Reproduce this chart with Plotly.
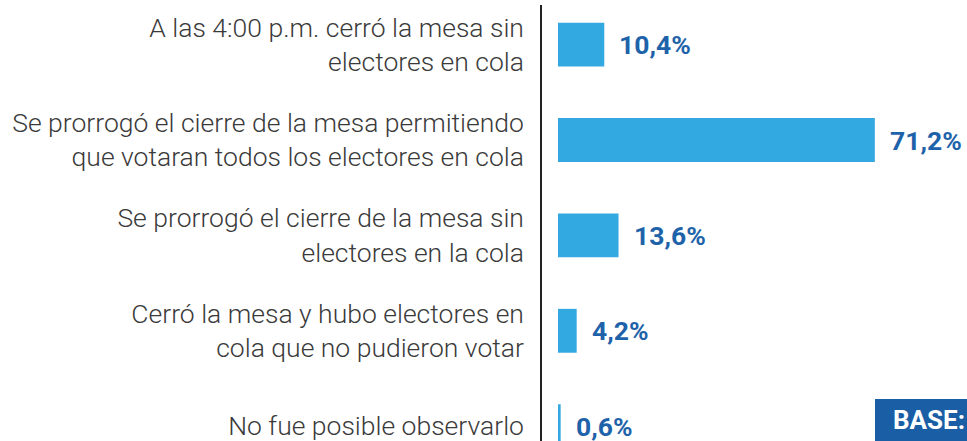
import plotly.graph_objects as go

# categories (top to bottom) and values in percent
categorias = [
    "A las 4:00 p.m. cerró la mesa sin<br>electores en cola",
    "Se prorrogó el cierre de la mesa permitiendo<br>que votaran todos los electores en cola",
    "Se prorrogó el cierre de la mesa sin<br>electores en la cola",
    "Cerró la mesa y hubo electores en<br>cola que no pudieron votar",
    "No fue posible observarlo",
]
valores = [10.4, 71.2, 13.6, 4.2, 0.6]
etiquetas = ["10,4%", "71,2%", "13,6%", "4,2%", "0,6%"]

azul_barra = "#33A9E1"
azul_texto = "#1E63AA"

L = 542          # axis line x (px)
T = 5            # top of plot area (px)
PX = 4.45        # px per percent
CAT = 95.4       # px per category
Y0 = 44.6        # centre of first bar (px)
W, H = 967, 441
PH = H - T       # plot area height

fig = go.Figure()
fig.add_trace(go.Bar(
    x=valores, y=categorias, orientation="h",
    marker=dict(color=azul_barra, line=dict(width=0)),
    width=0.46, hoverinfo="skip",
))

# value labels to the right of each bar
for cat, v, t in zip(categorias, valores, etiquetas):
    fig.add_annotation(x=v, y=cat, text=t, showarrow=False,
                       xanchor="left", xshift=13,
                       font=dict(family="Roboto", size=26.5, color=azul_texto, weight="bold"))

# "BASE:" box, cut by the right edge
fig.add_shape(type="rect", xref="paper", yref="paper",
              x0=(875 - L) / (W - L), x1=1.1, y0=-0.1, y1=(H - 399) / PH,
              fillcolor="#1A5EA6", line=dict(width=0), layer="above")
fig.add_annotation(xref="paper", yref="paper", x=(891 - L) / (W - L), y=(H - 420) / PH,
                   text="BASE:", showarrow=False, xanchor="left", yanchor="middle",
                   font=dict(family="Roboto", size=26, color="white", weight="bold"))

fig.update_layout(
    width=W, height=H,
    margin=dict(l=L, r=0, t=T, b=0),
    paper_bgcolor="white", plot_bgcolor="white",
    showlegend=False,
    font=dict(family="Roboto", color="#333333"),
    xaxis=dict(range=[-16 / PX, (W - L - 16) / PX], visible=False, fixedrange=True),
    yaxis=dict(
        range=[(H - Y0) / CAT, -(Y0 - T) / CAT],
        showline=True, linecolor="#222222", linewidth=1.5,
        showgrid=False, zeroline=False, ticks="",
        ticklabelstandoff=11, fixedrange=True,
        tickfont=dict(family="Roboto", size=26.5, color="#3a3a3a", weight=300),
    ),
)

# drop the page's default body margin so the figure fills the window
fig.write_html("out.html", config={"displayModeBar": False},
               post_script="document.body.style.margin='0';document.body.style.overflow='hidden';")
